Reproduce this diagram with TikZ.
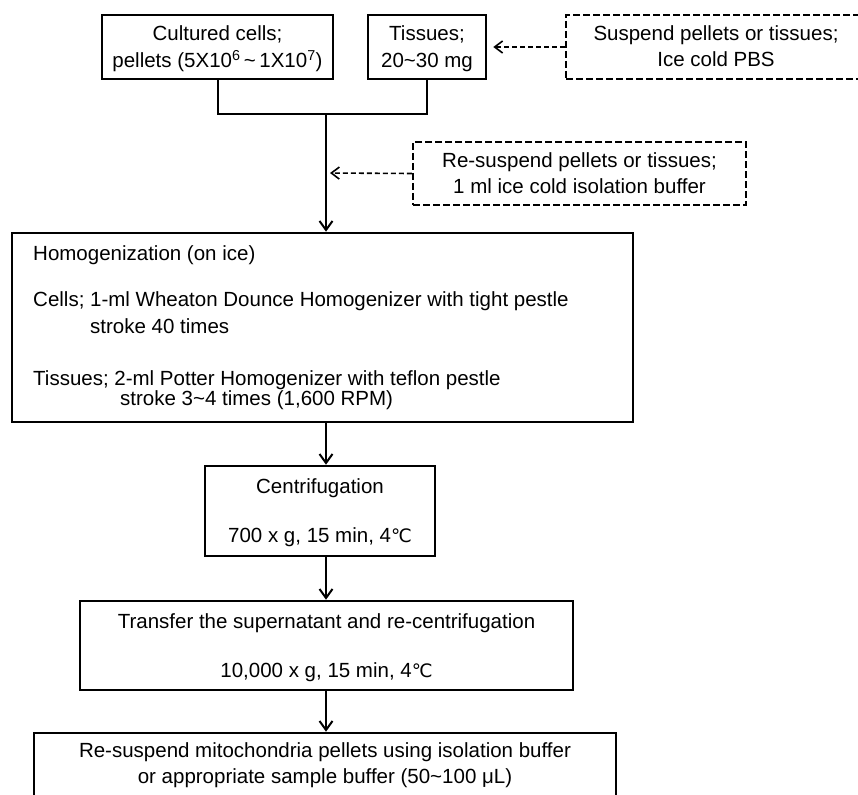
\documentclass[tikz,border=0pt]{standalone}
\usepackage{fontspec}
\setmainfont{Liberation Sans}
\newfontfamily\dejavu{DejaVu Sans}
\usetikzlibrary{arrows.meta}
\newcommand{\degC}{{\dejavu\fontsize{18.5}{20}\selectfont ℃}}
\begin{document}
\begin{tikzpicture}[x=1pt,y=-1pt,
  box/.style={draw,line width=2.6pt,inner sep=0pt},
  dbox/.style={draw,line width=2.2pt,dash pattern=on 7pt off 3pt,inner sep=0pt},
  txt/.style={anchor=base,inner sep=0pt,font=\fontsize{20.5}{24}\selectfont},
  ltxt/.style={anchor=base west,inner sep=0pt,font=\fontsize{20.5}{24}\selectfont},
  conn/.style={line width=2pt},
  arr/.style={conn,-{Straight Barb[length=9pt,width=13pt,line width=2pt]}},
  darr/.style={line width=1.6pt,dash pattern=on 5pt off 3pt,-{Straight Barb[length=8pt,width=12pt,line width=1.6pt]}}]
\clip (0,0) rectangle (858,794);
\fill[white] (0,0) rectangle (858,794);

% boxes
\node[box,minimum width=231pt,minimum height=64pt] (b1) at (217.5,47) {};
\node[box,minimum width=118pt,minimum height=64pt] (b2) at (427,47) {};
\node[dbox,minimum width=300pt,minimum height=64pt] (d3) at (716,47) {};
\node[dbox,minimum width=333pt,minimum height=63pt] (d4) at (579.5,173.5) {};
\node[box,minimum width=621pt,minimum height=189pt] (hom) at (322.5,327.5) {};
\node[box,minimum width=230pt,minimum height=90pt] (cen) at (320,511) {};
\node[box,minimum width=493pt,minimum height=89pt] (tra) at (326.5,645.5) {};
\node[box,minimum width=582pt,minimum height=77pt] (las) at (325,771.5) {};

% texts
\node[txt] (t1a) at (217.5,41) {Cultured cells;};
\node[txt] (t1b) at (217.5,68) {pellets (5X10\textsuperscript{6}\,\textasciitilde\,1X10\textsuperscript{7})};
\node[txt] (t2a) at (427,41) {Tissues;};
\node[txt] (t2b) at (427,68) {20\textasciitilde30 mg};
\node[txt] (t3a) at (716,41) {Suspend pellets or tissues;};
\node[txt] (t3b) at (716,67) {Ice cold PBS};
\node[txt] (t4a) at (579.5,168) {Re-suspend pellets or tissues;};
\node[txt] (t4b) at (579.5,194) {1 ml ice cold isolation buffer};
\node[ltxt] (h1) at (33,260) {Homogenization (on ice)};
\node[ltxt] (h2) at (33,306) {Cells; 1-ml Wheaton Dounce Homogenizer with tight pestle};
\node[ltxt] (h3) at (90,333) {stroke 40 times};
\node[ltxt] (h4) at (33,385.5) {Tissues; 2-ml Potter Homogenizer with teflon pestle};
\node[ltxt] (h5) at (120,405.5) {stroke 3\textasciitilde4 times (1,600 RPM)};
\node[txt] (c1) at (320,493) {Centrifugation};
\node[txt] (c2) at (320,542) {700 x g, 15 min, 4\degC};
\node[txt] (r1) at (326.5,628) {Transfer the supernatant and re-centrifugation};
\node[txt] (r2) at (326.5,677) {10,000 x g, 15 min, 4\degC};
\node[txt] (l1) at (325,757) {Re-suspend mitochondria pellets using isolation buffer};
\node[txt] (l2) at (325,783) {or appropriate sample buffer (50\textasciitilde100 μL)};

% connectors
\coordinate (j) at (326,114);
\coordinate (k) at (326,173);
\draw[conn] (b1.south) -- (b1.south |- j) -- (b2.south |- j) -- (b2.south);
\draw[arr] (j) -- (j |- hom.north);
\draw[darr,shorten >=6pt] (d3.west) -- (b2.east);
\draw[darr,shorten >=4pt] (d4.west) -- (k);
\draw[arr] (j |- hom.south) -- (j |- cen.north);
\draw[arr] (j |- cen.south) -- (j |- tra.north);
\draw[arr] (j |- tra.south) -- (j |- las.north);
\end{tikzpicture}
\end{document}
